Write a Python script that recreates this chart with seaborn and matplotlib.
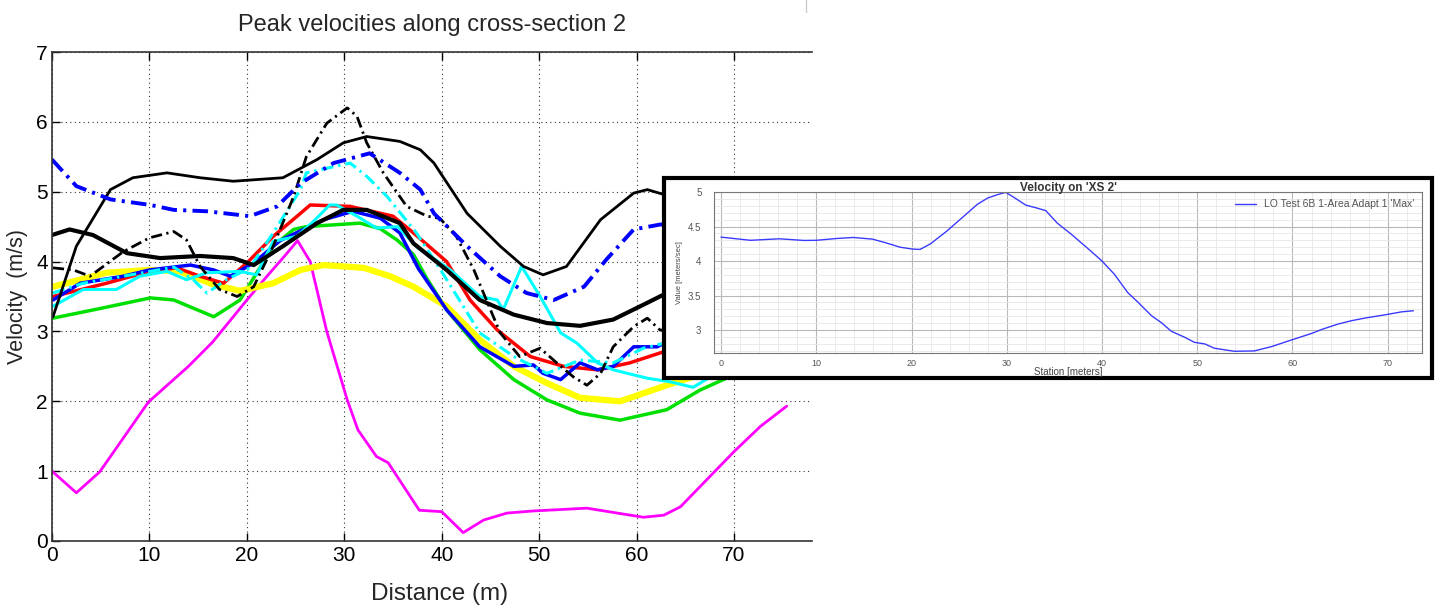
import matplotlib
matplotlib.use('Agg')
import matplotlib.pyplot as plt
import seaborn as sns
from matplotlib.patches import Rectangle
from matplotlib.lines import Line2D
from matplotlib.ticker import MultipleLocator

# ---- main chart data: distance (m) vs peak velocity (m/s) ----
magenta_x = [0, 2.5, 4.9, 9.9, 14, 16.5, 20, 22, 24, 25.2, 26.5, 28.2, 30.3, 31.4, 33.3, 34.5, 37.7, 40, 42.2, 44.3, 46.7, 49.4, 54.9, 58, 60.7, 62.8, 64.5, 70, 72.7, 75.4]
magenta_y = [1.0, 0.69, 0.99, 1.99, 2.5, 2.85, 3.45, 3.78, 4.1, 4.3, 4.0, 3.0, 2.02, 1.59, 1.21, 1.12, 0.44, 0.42, 0.12, 0.30, 0.40, 0.43, 0.47, 0.40, 0.34, 0.37, 0.49, 1.28, 1.64, 1.93]

green_x = [0.1, 5, 10.1, 12.5, 16.6, 19.3, 22.7, 24.8, 26.1, 31.6, 33.7, 35.4, 37.1, 38.5, 40.5, 43.9, 47.4, 50.8, 54.2, 58.3, 63.1, 66.5, 70, 74]
green_y = [3.19, 3.33, 3.48, 3.45, 3.21, 3.45, 4.22, 4.46, 4.5, 4.55, 4.47, 4.31, 4.1, 3.75, 3.31, 2.74, 2.31, 2.02, 1.83, 1.73, 1.88, 2.16, 2.38, 2.6]

yellow_x = [0.1, 5.6, 10, 13.1, 16.6, 19.3, 22.7, 25.5, 27.9, 32, 34.7, 37.1, 40.5, 43.9, 47.4, 50.8, 54.2, 58.3, 63.1, 66.5, 70, 74]
yellow_y = [3.64, 3.84, 3.88, 3.86, 3.67, 3.58, 3.69, 3.88, 3.95, 3.91, 3.79, 3.64, 3.36, 2.88, 2.50, 2.26, 2.05, 2.0, 2.23, 2.38, 2.5, 2.65]

red_x = [0.1, 5.6, 10, 12.8, 15.2, 17.6, 20, 22.7, 25.5, 26.5, 30.6, 35, 37.1, 40.5, 42.9, 45.7, 49.1, 52.5, 56, 59.3, 62.8, 68, 74]
red_y = [3.5, 3.69, 3.86, 3.91, 3.79, 3.69, 3.98, 4.36, 4.69, 4.81, 4.79, 4.65, 4.41, 4.0, 3.45, 3.02, 2.64, 2.50, 2.45, 2.55, 2.71, 2.9, 3.1]

blue_x = [0.1, 2.9, 7.3, 10, 14.2, 16.6, 18.3, 20.7, 23.4, 27.9, 30.9, 33.7, 35.7, 37.6, 40.5, 43.9, 47.4, 49.4, 50.4, 52.2, 54.2, 56, 57.6, 59.7, 62.1, 62.8, 68, 74]
blue_y = [3.45, 3.69, 3.79, 3.88, 3.95, 3.88, 3.79, 3.98, 4.3, 4.6, 4.72, 4.62, 4.41, 3.9, 3.31, 2.78, 2.50, 2.52, 2.40, 2.31, 2.55, 2.45, 2.50, 2.78, 2.78, 2.83, 2.9, 3.0]

cyan_x = [0.1, 3.2, 6.6, 9, 11.8, 13.8, 15.9, 19.3, 21, 22.7, 25.1, 26.8, 28.5, 29.2, 31.3, 33.3, 35.5, 37.5, 40.9, 43.9, 45.7, 46.3, 48.2, 50.1, 52.2, 53.9, 56, 57.6, 61.1, 63.4, 65.8, 67.6, 74]
cyan_y = [3.36, 3.6, 3.6, 3.79, 3.86, 3.74, 3.84, 3.86, 3.81, 4.29, 4.36, 4.57, 4.81, 4.81, 4.65, 4.48, 4.5, 4.2, 3.88, 3.5, 3.45, 3.31, 3.93, 3.5, 2.98, 2.83, 2.55, 2.45, 2.33, 2.28, 2.2, 2.35, 2.6]

cyan_dd_x = [0.1, 3.2, 7.3, 12.5, 14.5, 15.9, 17.9, 20.3, 22.7, 25.5, 26.1, 30.6, 32.3, 34.4, 37.4, 39.8, 43.9, 47.4, 50.8, 54.2, 57.6, 60.7, 62.8, 68, 74]
cyan_dd_y = [3.55, 3.69, 3.79, 3.92, 3.74, 3.55, 3.74, 3.91, 4.41, 5.03, 5.27, 5.41, 5.22, 4.93, 4.41, 3.9, 2.98, 2.64, 2.40, 2.59, 2.55, 2.76, 2.83, 2.9, 3.0]

blue_dd_x = [0, 2.5, 6, 10.1, 12.5, 15.9, 20.3, 23.1, 25.5, 28.9, 32.6, 35.7, 37.8, 39.2, 42.6, 46, 48.7, 51.5, 54.6, 56.9, 59.7, 62.4, 68, 74]
blue_dd_y = [5.46, 5.08, 4.89, 4.81, 4.74, 4.72, 4.65, 4.79, 5.12, 5.41, 5.55, 5.27, 5.03, 4.69, 4.22, 3.79, 3.55, 3.45, 3.64, 4.03, 4.46, 4.53, 4.55, 4.55]

black_hi_x = [0.1, 2.5, 6, 8.3, 11.8, 15.2, 18.6, 23.7, 27.2, 29.9, 32.3, 35.7, 37.8, 39.2, 42.6, 46, 48.4, 50.4, 52.8, 56.3, 59.7, 61.1, 62.8, 68, 74]
black_hi_y = [3.21, 4.22, 5.03, 5.2, 5.27, 5.2, 5.15, 5.2, 5.46, 5.7, 5.79, 5.72, 5.6, 5.41, 4.69, 4.22, 3.93, 3.81, 3.93, 4.6, 4.98, 5.03, 4.96, 4.8, 4.7]

black_lo_x = [0, 1.8, 4.2, 7.7, 11.1, 15.2, 18.6, 20.7, 23.7, 27.2, 29.9, 32.3, 35.7, 37.1, 40.5, 43.9, 47.4, 50.8, 54.2, 57.6, 61.1, 63.1, 68, 74]
black_lo_y = [4.38, 4.46, 4.38, 4.12, 4.05, 4.08, 4.05, 3.95, 4.22, 4.55, 4.74, 4.74, 4.55, 4.26, 3.88, 3.45, 3.24, 3.12, 3.08, 3.17, 3.41, 3.55, 3.8, 4.0]

black_dd_x = [0.1, 2.2, 3.9, 7.3, 10, 12.5, 13.8, 15.2, 17.2, 19, 20.7, 22.7, 24.8, 26.1, 28.2, 30.3, 31.3, 32.3, 34, 36.4, 38.5, 39.8, 41.5, 43.3, 45, 46, 48, 50.1, 51.8, 53.5, 54.9, 56.3, 57.6, 59.7, 61.1, 62.4, 68, 74]
black_dd_y = [3.91, 3.88, 3.79, 4.14, 4.34, 4.43, 4.31, 3.93, 3.6, 3.5, 3.64, 4.22, 4.93, 5.5, 5.98, 6.2, 6.08, 5.7, 5.27, 4.79, 4.65, 4.62, 4.36, 3.88, 3.31, 2.98, 2.64, 2.76, 2.55, 2.35, 2.23, 2.40, 2.78, 3.07, 3.19, 3.02, 3.0, 3.0]

# ---- inset data: station (m) vs max velocity (m/s) ----
inset_x = [0, 3.1, 6.1, 8.7, 10, 12.2, 13.9, 15.9, 17.3, 18.8, 20.1, 20.9, 22, 23.7, 25.5, 26.9, 28, 29, 29.9, 31, 32, 33.1, 34.1, 35.3, 36.8, 38.5, 40, 41.3, 42.7, 43.8, 45.2, 46.2, 47.3, 48.7, 49.7, 50.8, 51.8, 53.9, 56, 57.8, 59.9, 62, 63.1, 64.8, 66.2, 67.6, 69.7, 71.5, 72.7]
inset_y = [4.346, 4.30, 4.322, 4.298, 4.30, 4.327, 4.341, 4.317, 4.264, 4.20, 4.173, 4.168, 4.25, 4.433, 4.65, 4.82, 4.913, 4.96, 4.995, 4.90, 4.81, 4.77, 4.73, 4.55, 4.385, 4.183, 4.0, 3.808, 3.543, 3.40, 3.207, 3.11, 2.98, 2.894, 2.822, 2.798, 2.736, 2.692, 2.697, 2.76, 2.856, 2.95, 3.01, 3.087, 3.135, 3.173, 3.22, 3.264, 3.279]

sns.set_style('white')
narrow = ['Liberation Sans Narrow', 'Liberation Sans', 'DejaVu Sans']
plt.rcParams['font.family'] = narrow

fig = plt.figure(figsize=(14.35, 6.13), dpi=100)
ax = fig.add_axes([52/1435, 1 - 541/613, 760/1435, 489/613])
ax.set_zorder(0)

DD = (4, 1.6, 0.8, 1.6)
series = [
    (magenta_x, magenta_y, '#ff00ff', 2.0, None),
    (green_x, green_y, '#00e000', 2.5, None),
    (yellow_x, yellow_y, '#ffff00', 4.5, None),
    (red_x, red_y, '#ff0000', 2.5, None),
    (blue_x, blue_y, '#0000ff', 2.5, None),
    (cyan_dd_x, cyan_dd_y, '#00ffff', 2.2, DD),
    (cyan_x, cyan_y, '#00ffff', 2.2, None),
    (black_lo_x, black_lo_y, '#000000', 3.0, None),
    (black_hi_x, black_hi_y, '#000000', 2.0, None),
    (black_dd_x, black_dd_y, '#000000', 2.0, DD),
    (blue_dd_x, blue_dd_y, '#0000ff', 2.8, DD),
]
for xs, ys, col, lw, dash in series:
    sns.lineplot(x=xs, y=ys, ax=ax, color=col, linewidth=lw, sort=False, estimator=None)
    if dash is not None:
        ax.lines[-1].set_dashes(dash)

ax.set_xlim(0, 78)
ax.set_ylim(0, 7)
ax.set_xticks(range(0, 80, 10))
ax.set_yticks(range(0, 8))
ax.grid(True, color='#333333', linestyle=(0, (1, 3)), linewidth=0.8)
ax.tick_params(direction='in', length=6, width=1, labelsize=15, colors='black', top=True, bottom=True, left=True)
ax.tick_params(axis='y', pad=3)
for s in ['left', 'bottom', 'top']:
    ax.spines[s].set_color('#333333')
    ax.spines[s].set_linewidth(1.2)
ax.spines['right'].set_visible(False)
ax.set_xlabel('Distance (m)', fontsize=17.5)
ax.xaxis.set_label_coords(0.51, -0.085)
ax.set_ylabel('Velocity  (m/s)', fontsize=15.5, va='center')
ax.yaxis.set_label_coords(-0.045, 0.5)
ax.set_title('Peak velocities along cross-section 2', fontsize=17, pad=15)

# outer frame of the inset screenshot
fig.add_artist(Rectangle((664/1435, 1 - 378/613), 768/1435, 200/613, transform=fig.transFigure,
                         facecolor='white', edgecolor='black', linewidth=3, zorder=1))
fig.add_artist(Line2D([806/1435, 806/1435], [1, 1 - 12/613], transform=fig.transFigure,
                      color='#cccccc', linewidth=1, zorder=1))

ins = fig.add_axes([714/1435, 1 - 353/613, 708/1435, 161/613])
ins.set_zorder(2)
sns.lineplot(x=inset_x, y=inset_y, ax=ins, color='#3a3aff', linewidth=1.0, sort=False, estimator=None,
             label="LO Test 6B 1-Area Adapt 1 'Max'")
ins.set_xlim(-0.74, 73.6)
ins.set_ylim(2.667, 5.0)
ins.xaxis.set_major_locator(MultipleLocator(10))
ins.xaxis.set_minor_locator(MultipleLocator(2))
ins.yaxis.set_minor_locator(MultipleLocator(0.1))
ins.set_yticks([3, 3.5, 4, 4.5, 5])
ins.set_yticklabels(['3', '3.5', '4', '4.5', '5'])
ins.grid(True, which='major', color='#b8b8b8', linewidth=0.8)
ins.grid(True, which='minor', color='#e6e6e6', linewidth=0.6)
ins.tick_params(which='major', direction='out', length=3, labelsize=7, colors='#555555')
ins.tick_params(axis='x', which='major', pad=1, labelsize=6.5)
ins.tick_params(axis='y', which='major', pad=6)
ins.tick_params(which='minor', direction='out', length=2, colors='#555555')
for s in ins.spines.values():
    s.set_color('#777777')
    s.set_linewidth(0.8)
ins.set_title("Velocity on 'XS 2'", fontsize=8.5, fontweight='bold', pad=1.0, color='#333333')
ins.set_xlabel('Station [meters]', fontsize=7, color='#444444', va='center')
ins.xaxis.set_label_coords(0.5, -0.115)
ins.set_ylabel('Value [meters/sec]', fontsize=5.5, labelpad=4, color='#444444')
ins.legend(loc='upper right', frameon=False, fontsize=7.5, handlelength=2.0, labelcolor='#555555',
           borderaxespad=0.3)

fig.savefig('out.png', dpi=100)
